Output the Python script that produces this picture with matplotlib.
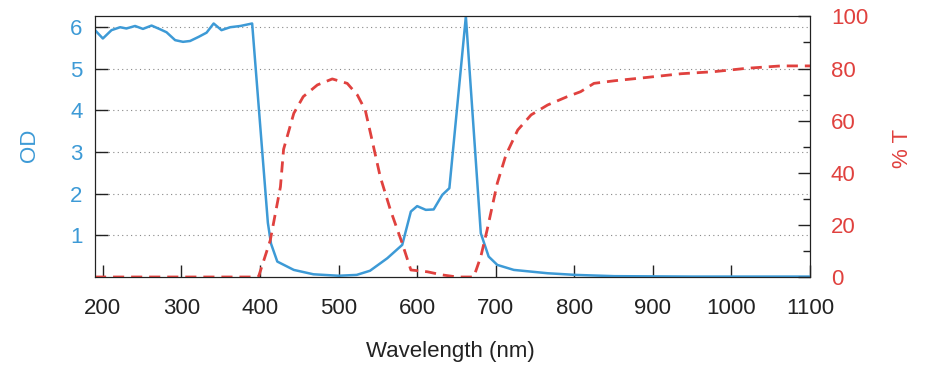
import numpy as np
import matplotlib.pyplot as plt
from matplotlib.ticker import MultipleLocator

plt.rcParams['font.family'] = ['Liberation Sans', 'DejaVu Sans']

# OD curve (blue)
od_wl = [190, 200, 211, 222, 230, 241, 251, 262, 273, 281, 292, 302, 311, 322, 332, 341,
         351, 362, 375, 390, 410, 414, 422, 443, 468, 500, 523, 540, 562, 581, 592, 600,
         611, 621, 632, 641, 662, 681, 691, 702, 723, 766, 802, 851, 950, 1100]
od_val = [5.92, 5.72, 5.92, 5.99, 5.96, 6.02, 5.95, 6.03, 5.94, 5.87, 5.68, 5.64, 5.66, 5.76, 5.86, 6.08,
          5.92, 5.99, 6.02, 6.08, 1.30, 0.80, 0.37, 0.17, 0.065, 0.03, 0.05, 0.15, 0.45, 0.77, 1.57, 1.70,
          1.61, 1.62, 1.97, 2.13, 6.25, 1.05, 0.49, 0.29, 0.17, 0.09, 0.05, 0.02, 0.01, 0.01]

# %T curve (red, dashed)
t_wl = [190, 300, 398, 413, 426, 430, 443, 455, 473, 492, 511, 524, 534, 543, 553, 566, 581, 592,
        613, 632, 651, 672, 681, 689, 702, 713, 728, 745, 766, 791, 808, 825, 851, 893, 936, 978,
        1020, 1063, 1100]
t_val = [0, 0, 0, 14, 34.6, 49, 62.8, 69.2, 73.7, 76, 74.3, 69.8, 64, 52, 38.5, 25.7, 12.9, 2.7,
         2, 0.8, 0, 0, 7.8, 18, 36, 46.8, 56.4, 62.2, 66, 69.2, 71.1, 74.3, 75.3, 76.6, 78, 78.8,
         80.1, 81, 81]

blue = '#3d9ad6'
red = '#e0413e'
dark = '#222222'
fs = 16

fig = plt.figure(figsize=(9.36, 3.76), dpi=100)
ax = fig.add_axes([0.1015, 0.2633, 0.7639, 0.6931])
ax2 = ax.twinx()

ax.plot(od_wl, od_val, color=blue, lw=1.8, zorder=3)
ax2.plot(t_wl, t_val, color=red, lw=2.0, ls=(0, (4, 2.5)))

ax.set_xlim(190, 1100)
ax.set_ylim(0, 6.25)
ax2.set_ylim(0, 100)

ax.set_xticks(np.arange(200, 1101, 100))
ax.set_yticks([1, 2, 3, 4, 5, 6])
ax2.set_yticks(np.arange(0, 101, 20))
ax2.yaxis.set_minor_locator(MultipleLocator(10))

ax.grid(axis='y', ls=(0, (1, 3)), color='#888888', lw=0.8)

ax.tick_params(axis='x', direction='in', length=9, width=1, labelsize=fs, pad=15, colors=dark)
ax.tick_params(axis='y', direction='in', length=9, width=1, labelsize=fs, pad=9,
               labelcolor=blue, color=dark)
ax2.tick_params(axis='y', which='major', direction='in', length=9, width=1, labelsize=fs, pad=15,
                labelcolor=red, color=dark)
ax2.tick_params(axis='y', which='minor', direction='in', length=5, width=1, color=dark)

fig.text(450 / 936, 1 - 352 / 376, 'Wavelength (nm)', fontsize=fs, color=dark,
         ha='center', va='center')
fig.text(30 / 936, 1 - 145 / 376, 'OD', fontsize=fs, color=blue,
         ha='center', va='center', rotation=90)
fig.text(903 / 936, 1 - 148 / 376, '% T', fontsize=fs, color=red,
         ha='center', va='center', rotation=90)

for sp in ax2.spines.values():
    sp.set_color(dark)

fig.savefig('out.png', dpi=100)
